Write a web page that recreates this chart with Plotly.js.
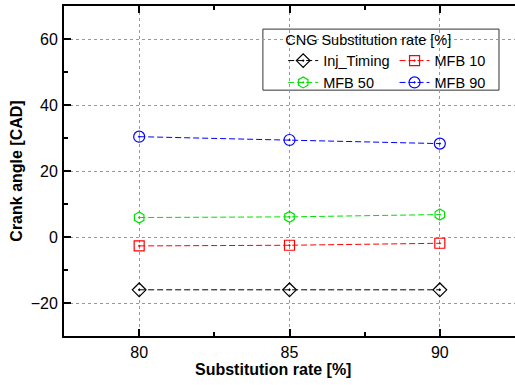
<!DOCTYPE html>
<html>
<head>
<meta charset="utf-8">
<script src="https://cdn.plot.ly/plotly-3.0.1.min.js"></script>
<style>html,body{margin:0;padding:0;background:#fff;}#chart{width:515px;height:385px;}</style>
</head>
<body>
<div id="chart"></div>
<script>
// Data
const substitutionRate = [80, 85, 90];
const injTiming = [-16.0, -16.0, -16.0];
const mfb10 = [-2.7, -2.5, -1.9];
const mfb50 = [5.9, 6.1, 6.8];
const mfb90 = [30.4, 29.4, 28.3];

const seriesNames = ['Inj_Timing', 'MFB 10', 'MFB 50', 'MFB 90'];
const seriesValues = [injTiming, mfb10, mfb50, mfb90];
const seriesColors = ['#000000', '#ff0000', '#00e000', '#0000ff'];
const seriesSymbols = ['diamond-open-dot', 'square-open-dot', 'hexagon-open-dot', 'circle-open-dot'];
const seriesSizes = [10.5, 10, 11, 11];
const legendGroups = ['col1', 'col2', 'col1', 'col2'];
const xTitle = 'Substitution rate [%]';
const yTitle = 'Crank angle [CAD]';
const legendTitle = 'CNG Substitution rate [%]';

const traces = seriesNames.map((name, i) => ({
  type: 'scatter',
  mode: 'lines+markers',
  name: name,
  x: substitutionRate,
  y: seriesValues[i],
  legendgroup: legendGroups[i],
  line: {color: seriesColors[i], width: 1, dash: '6px,3px'},
  marker: {symbol: seriesSymbols[i], size: seriesSizes[i], color: seriesColors[i], line: {color: seriesColors[i], width: 1.2}}
}));

const layout = {
  width: 515,
  height: 385,
  margin: {l: 64, r: 0, t: 6, b: 49},
  paper_bgcolor: '#ffffff',
  plot_bgcolor: '#ffffff',
  font: {family: 'Liberation Sans, Arial, sans-serif', color: '#000000'},
  showlegend: true,
  legend: {
    orientation: 'h',
    traceorder: 'grouped',
    tracegroupgap: 0,
    x: 0.486, y: 0.94, xanchor: 'left', yanchor: 'top',
    bgcolor: 'rgba(0,0,0,0)',
    borderwidth: 0,
    font: {size: 14.5, color: '#000000'},
    title: {text: legendTitle, side: 'top', font: {size: 14.5, color: '#000000'}}
  },
  shapes: [{
    type: 'rect', xref: 'paper', yref: 'paper',
    x0: 0.441, x1: 0.9645, y0: 0.745, y1: 0.930,
    fillcolor: '#ffffff', line: {color: '#333333', width: 1}, layer: 'below'
  }],
  annotations: [{
    text: xTitle, xref: 'paper', yref: 'paper',
    x: 0.4634, y: -0.1, xanchor: 'center', yanchor: 'middle',
    showarrow: false, font: {size: 16, weight: 'bold', color: '#000000'}
  }],
  xaxis: {
    range: [77.5, 92.5],
    tickvals: substitutionRate,
    ticks: 'inside', ticklen: 7, tickwidth: 2, tickcolor: '#000',
    minor: {dtick: 2.5, tick0: 77.5, ticks: 'inside', ticklen: 4, tickwidth: 2, tickcolor: '#000', showgrid: false},
    showline: true, linecolor: '#000', linewidth: 2, mirror: 'ticks',
    showgrid: true, gridcolor: '#999999', griddash: 'dot', gridwidth: 1,
    zeroline: false,
    tickfont: {size: 16},
    ticklabelstandoff: 1
  },
  yaxis: {
    range: [-30, 70],
    tickvals: [-20, 0, 20, 40, 60],
    ticks: 'inside', ticklen: 7, tickwidth: 2, tickcolor: '#000',
    minor: {dtick: 10, tick0: -30, ticks: 'inside', ticklen: 4, tickwidth: 2, tickcolor: '#000', showgrid: false},
    showline: true, linecolor: '#000', linewidth: 2, mirror: false,
    showgrid: true, gridcolor: '#999999', griddash: 'dot', gridwidth: 1,
    zeroline: false,
    tickfont: {size: 16},
    ticklabelstandoff: 1,
    title: {text: yTitle, font: {size: 16, weight: 'bold'}, standoff: 4}
  }
};

Plotly.newPlot('chart', traces, layout, {displayModeBar: false, staticPlot: true});
</script>
</body>
</html>
